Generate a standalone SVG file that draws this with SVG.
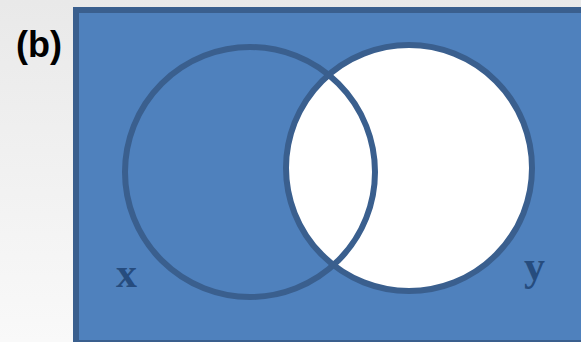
<svg xmlns="http://www.w3.org/2000/svg" width="581" height="342" viewBox="0 0 581 342">
  <defs>
    <linearGradient id="bg" x1="0" y1="0" x2="0" y2="1">
      <stop offset="0" stop-color="#E9E9E9"/>
      <stop offset="1" stop-color="#F9F9F9"/>
    </linearGradient>
  </defs>
  <style>
    .ring { fill: none; stroke: #3A5F8E; stroke-width: 6; }
    .setlabel { font-family: "Liberation Serif", "Times New Roman", serif; font-weight: bold; font-size: 42px; fill: #264C7E; }
    .panel { font-family: "Liberation Sans", Arial, sans-serif; font-weight: bold; font-size: 36px; fill: #000000; }
  </style>
  <rect x="0" y="0" width="581" height="342" fill="url(#bg)"/>
  <text class="panel" x="16" y="57">(b)</text>
  <g id="universe">
    <rect x="76" y="10" width="520" height="333" fill="#4F81BD" stroke="#3A5F8E" stroke-width="6"/>
  </g>
  <g id="set-y-fill">
    <circle cx="409" cy="168" r="123" fill="#FFFFFF"/>
  </g>
  <g id="set-x">
    <circle class="ring" cx="250" cy="172" r="125"/>
    <text class="setlabel" x="116" y="287">x</text>
  </g>
  <g id="set-y">
    <circle class="ring" cx="409" cy="168" r="123"/>
    <text class="setlabel" x="524" y="280">y</text>
  </g>
</svg>
